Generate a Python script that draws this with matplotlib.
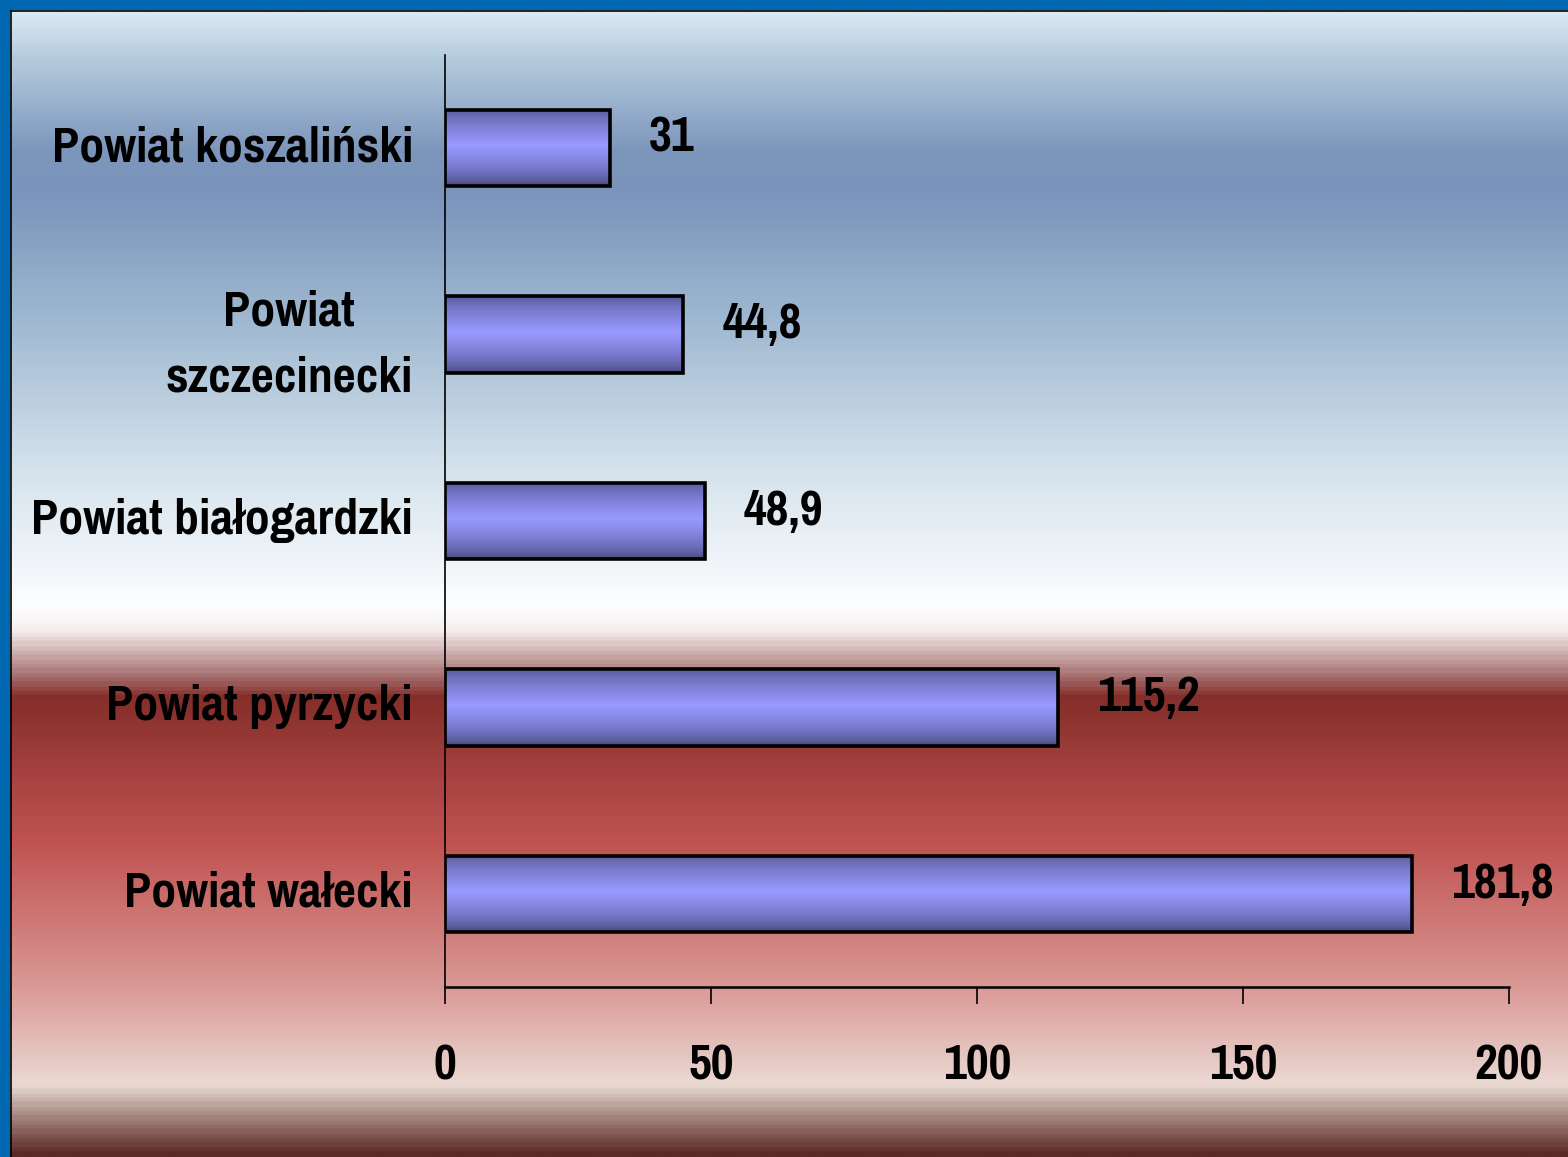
import numpy as np
import matplotlib.pyplot as plt
from matplotlib.colors import LinearSegmentedColormap, to_rgb
from matplotlib import font_manager
from matplotlib.transforms import offset_copy, ScaledTranslation

# data
categories = ["Powiat koszaliński", "Powiat\nszczecinecki", "Powiat białogardzki",
              "Powiat pyrzycki", "Powiat wałecki"]
values = [31, 44.8, 48.9, 115.2, 181.8]
value_labels = ["31", "44,8", "48,9", "115,2", "181,8"]
xticks = [0, 50, 100, 150, 200]

names = {f.name for f in font_manager.fontManager.ttflist}
fam = ["Liberation Sans Narrow", "Arial Narrow", "Pragati Narrow", "Roboto Condensed",
       "Liberation Sans", "DejaVu Sans"]
fam = [f for f in fam if f in names]
plt.rcParams['font.family'] = fam[:1] + ["DejaVu Sans"]
plt.rcParams['font.weight'] = 'bold'

W, H = 1568, 1157
fig = plt.figure(figsize=(W / 100, H / 100), dpi=100)
fig.patch.set_facecolor('#0068B0')

# background gradient (top -> bottom)
bg = fig.add_axes([10 / W, 0, 1 - 10 / W, 1 - 10 / H])
bg.set_axis_off()
stops = [(0.0, '#DAE9F3'), (0.04, '#B5CBDD'), (0.12, '#7D96BC'), (0.16, '#7A94BB'),
         (0.28, '#A3BCD3'), (0.40, '#D5E2EC'), (0.52, '#FDFEFF'), (0.54, '#F8F0F0'),
         (0.58, '#A77473'), (0.60, '#852E2A'), (0.66, '#A2403D'), (0.73, '#C05452'),
         (0.85, '#D99794'), (0.94, '#EBD9D3'), (0.955, '#C2AAA4'), (0.98, '#8A625C'),
         (1.0, '#5A2A25')]
cmap_bg = LinearSegmentedColormap.from_list('bg', stops)
grad = np.linspace(0, 1, 600).reshape(-1, 1)
bg.imshow(grad, cmap=cmap_bg, aspect='auto', extent=[0, 1, 0, 1], origin='upper')
bg.set_xlim(0, 1)
bg.set_ylim(0, 1)
bg.plot([0.0005, 0.0005], [0, 1], color='black', lw=1.2, transform=bg.transAxes)
bg.plot([0, 1], [0.9995, 0.9995], color='black', lw=1.2, transform=bg.transAxes)

ax = fig.add_axes([445 / W, 1 - 987 / H, (1509 - 445) / W, (987 - 55) / H])
ax.patch.set_alpha(0)

y = np.arange(len(categories))
bars = ax.barh(y, values, height=0.41, facecolor='none', edgecolor='black', lw=2.6, zorder=3)

# bar gradient: dark at edges, light lavender in the middle
dark = np.array(to_rgb('#3E3E6E'))
light = np.array(to_rgb('#9999FF'))
t = np.linspace(0, 1, 100)
w = np.clip(1 - np.abs(t - 0.47) / 0.53, 0, 1) ** 0.55
prof = dark + (light - dark) * w[:, None]
img = prof[:, None, :]
for b in bars:
    x0, y0 = b.get_x(), b.get_y()
    ax.imshow(img, extent=[x0, x0 + b.get_width(), y0 + b.get_height(), y0],
              aspect='auto', zorder=2, interpolation='bilinear')

lab_tr = offset_copy(ax.transData, fig=fig, x=28, y=7, units='points')
for yi, v, lab in zip(y, values, value_labels):
    ax.text(v, yi, lab, ha='left', va='center', fontsize=39, fontweight='bold',
            transform=lab_tr)

ax.set_xlim(0, 200)
ax.set_ylim(len(categories) - 0.5, -0.5)
ax.set_xticks(xticks)
ax.set_xticklabels([str(x) for x in xticks], fontsize=39, fontweight='bold')
ax.set_yticks(y)
ax.set_yticklabels(categories, fontsize=39, fontweight='bold')
ax.tick_params(axis='x', length=12, width=1.2, pad=29, color='black')
ax.tick_params(axis='y', length=0, pad=23)
up = ScaledTranslation(0, 5 / 100, fig.dpi_scale_trans)
for tk in ax.yaxis.get_major_ticks():
    lbl = tk.label1
    lbl.set_multialignment('center')
    lbl.set_linespacing(1.6)
    lbl.set_transform(lbl.get_transform() + up)
ax.spines['top'].set_visible(False)
ax.spines['right'].set_visible(False)
ax.spines['left'].set_linewidth(1.2)
ax.spines['bottom'].set_linewidth(1.8)

fig.savefig('out.png', dpi=100)
